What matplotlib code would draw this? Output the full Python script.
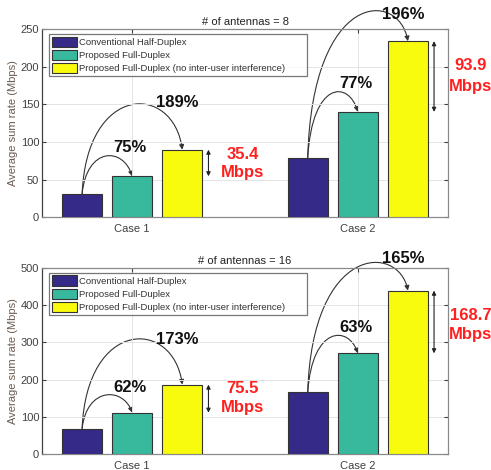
"""Average sum rate: half-duplex vs proposed full-duplex, 8 and 16 antennas."""

import matplotlib.pyplot as plt
import numpy as np
from matplotlib.patches import FancyArrowPatch
from matplotlib.path import Path

CASES = ["Case 1", "Case 2"]
SERIES = [
    "Conventional Half-Duplex",
    "Proposed Full-Duplex",
    "Proposed Full-Duplex (no inter-user interference)",
]
COLORS = ["#352a87", "#38b99e", "#f9fb0e"]

# values (Mbps)
RATES_8 = [[31.0, 79.0], [54.3, 140.0], [89.7, 234.0]]
RATES_16 = [[68.5, 166.0], [111.0, 270.5], [186.5, 439.0]]

GAIN_8 = [["75%", "77%"], ["189%", "196%"]]
GAIN_16 = [["62%", "63%"], ["173%", "165%"]]
GAP_8 = ["35.4", "93.9"]
GAP_16 = ["75.5", "168.7"]

# annotation placement (data units)
PEAK_8 = [[81, 164], [149, 266]]          # arc peaks: short, long
PEAK_16 = [[158, 314], [306, 500]]
GAIN_Y_8 = [[92, 178], [153, 269]]
GAIN_Y_16 = [[180, 340], [307, 525]]
GAP_Y_8 = [[83, 201], [59, 174]]          # number, "Mbps"
GAP_Y_16 = [[175, 372], [124, 322]]

OFFSET = 0.222
WIDTH = 0.178
BOLD = ["Liberation Sans", "DejaVu Sans"]

plt.rcParams["font.family"] = ["Liberation Sans", "DejaVu Sans"]


def arc(ax, x0, y0, x3, y3, peak):
    """Cubic Bezier from bar top to bar top that peaks at `peak`."""
    h = (8 * peak - y0 - y3) / 6.0
    verts = [(x0, y0), (x0 + 0.02, h), (x3 - 0.04, h), (x3, y3)]
    path = Path(verts, [Path.MOVETO, Path.CURVE4, Path.CURVE4, Path.CURVE4])
    ax.add_patch(FancyArrowPatch(path=path, arrowstyle="-|>", mutation_scale=7,
                                 lw=0.8, color="#333333", clip_on=False,
                                 transform=ax.transData))


def panel(ax, rates, gains, gaps, peaks, gain_y, gap_y, ymax, ystep, title):
    x = np.arange(1, len(CASES) + 1)
    for i, (vals, col, lab) in enumerate(zip(rates, COLORS, SERIES)):
        ax.bar(x + (i - 1) * OFFSET, vals, WIDTH, color=col, edgecolor="#333333",
               linewidth=0.8, label=lab, zorder=3)

    for c in range(len(CASES)):
        xs = [x[c] + (i - 1) * OFFSET for i in range(3)]
        ys = [rates[i][c] for i in range(3)]
        arc(ax, xs[0], ys[0], xs[1], ys[1], peaks[0][c])
        arc(ax, xs[0], ys[0], xs[2], ys[2], peaks[1][c])
        ax.text(xs[1] - 0.01, gain_y[0][c], gains[0][c], ha="center", va="center",
                fontsize=12, fontweight="bold", color="#111111", family=BOLD)
        ax.text(xs[1] + 0.2, gain_y[1][c], gains[1][c], ha="center", va="center",
                fontsize=12, fontweight="bold", color="#111111", family=BOLD,
                clip_on=False)
        ax.annotate("", xy=(x[c] + 0.338, ys[2]), xytext=(x[c] + 0.338, ys[1]),
                    arrowprops=dict(arrowstyle="<|-|>", mutation_scale=6, lw=0.8,
                                    color="#222222", shrinkA=0, shrinkB=0),
                    annotation_clip=False)
        xt = x[c] + 0.49 + 0.01 * c
        ax.text(xt, gap_y[0][c], gaps[c], ha="center", va="center", fontsize=12,
                fontweight="bold", color="#ff2020", family=BOLD)
        ax.text(xt, gap_y[1][c], "Mbps", ha="center", va="center", fontsize=12,
                fontweight="bold", color="#ff2020", family=BOLD)

    ax.set_xlim(0.6, 2.4)
    ax.set_ylim(0, ymax)
    ax.set_xticks(x)
    ax.set_xticklabels(CASES)
    ax.set_yticks(np.arange(0, ymax + 1, ystep))
    ax.grid(True, color="#e4e4e4", lw=0.7, zorder=0)
    ax.tick_params(labelsize=8, colors="#404040", direction="in", length=3,
                   top=True, right=True, pad=2)
    ax.tick_params(axis="x", pad=5)
    for s in ax.spines.values():
        s.set_color("#8a8a8a")
        s.set_linewidth(0.9)
    ax.spines["left"].set_color("#404040")
    ax.set_ylabel("Average sum rate (Mbps)", fontsize=8, color="#6a5a50", labelpad=2)
    ax.set_title(title, fontsize=8, color="#222222", pad=3)
    leg = ax.legend(loc="upper left", bbox_to_anchor=(0.017, 0.0, 0.636, 0.975),
                    mode="expand", fontsize=6.8, frameon=True, fancybox=False,
                    edgecolor="#555555", handlelength=2.7, handleheight=1.3,
                    labelspacing=0.3, handletextpad=0.2, borderaxespad=0.0,
                    borderpad=0.3)
    leg.get_frame().set_linewidth(0.9)
    for t in leg.get_texts():
        t.set_color("#333333")
    leg.set_zorder(5)


fig = plt.figure(figsize=(4.91, 4.70), dpi=100)
ax1 = fig.add_axes([0.0855, 0.538, 0.827, 0.40])
ax2 = fig.add_axes([0.0855, 0.034, 0.827, 0.396])
panel(ax1, RATES_8, GAIN_8, GAP_8, PEAK_8, GAIN_Y_8, GAP_Y_8, 250, 50,
      "# of antennas = 8")
panel(ax2, RATES_16, GAIN_16, GAP_16, PEAK_16, GAIN_Y_16, GAP_Y_16, 500, 100,
      "# of antennas = 16")
fig.savefig("out.png", dpi=100)
